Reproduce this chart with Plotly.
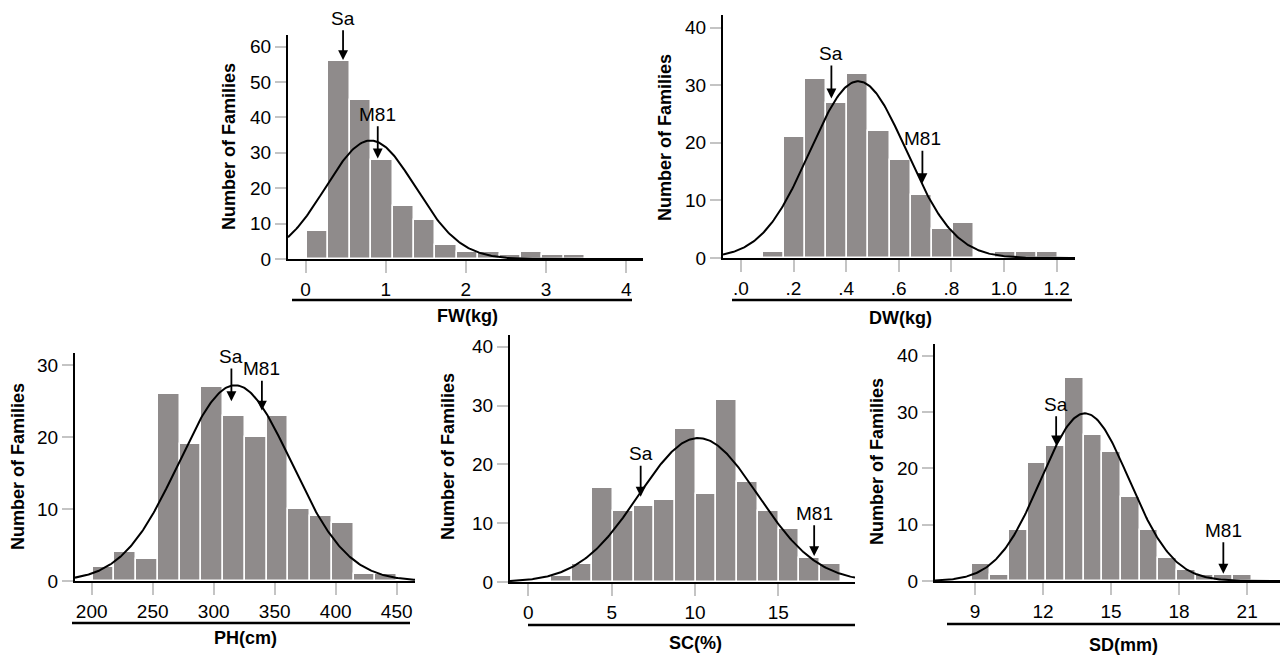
import numpy as np
import plotly.graph_objects as go

# ---------------- data ----------------
fw_counts = [8, 56, 45, 28, 15, 11, 4, 2, 2, 1, 2, 1, 1]
fw_bin_start = 0.017
fw_bin_width = 0.267
fw_fit = [0.81, 0.56]            # mean, sd of fitted normal
fw_marks = ["Sa", "M81"]
fw_mark_x = [0.467, 0.90]
fw_mark_tip = [56.2, 28.4]
fw_mark_text_y = [68.0, 40.9]
fw_ticks = [0, 1, 2, 3, 4]
fw_ticklabels = ["0", "1", "2", "3", "4"]

dw_counts = [1, 21, 31, 27, 32, 22, 17, 11, 5, 6, 0, 1, 1, 1]
dw_bin_start = 0.085
dw_bin_width = 0.08
dw_fit = [0.446, 0.183]
dw_marks = ["Sa", "M81"]
dw_mark_x = [0.344, 0.69]
dw_mark_tip = [27.7, 13.0]
dw_mark_text_y = [35.5, 20.7]
dw_ticks = [0, 0.2, 0.4, 0.6, 0.8, 1.0, 1.2]
dw_ticklabels = [".0", ".2", ".4", ".6", ".8", "1.0", "1.2"]

ph_counts = [2, 4, 3, 26, 19, 27, 23, 20, 23, 10, 9, 8, 1, 1]
ph_bin_start = 200.8
ph_bin_width = 17.83
ph_fit = [317.5, 46.0]
ph_marks = ["Sa", "M81"]
ph_mark_x = [314.5, 339.5]
ph_mark_tip = [25.0, 23.7]
ph_mark_text_y = [31.2, 29.5]
ph_ticks = [200, 250, 300, 350, 400, 450]
ph_ticklabels = ["200", "250", "300", "350", "400", "450"]

sc_counts = [1, 3, 16, 12, 13, 14, 26, 15, 31, 17, 12, 9, 4, 3]
sc_bin_start = 1.36
sc_bin_width = 1.241
sc_fit = [10.2, 3.56]
sc_marks = ["Sa", "M81"]
sc_mark_x = [6.74, 17.15]
sc_mark_tip = [14.5, 4.4]
sc_mark_text_y = [21.8, 11.7]
sc_ticks = [0, 5, 10, 15, 20]
sc_ticklabels = ["0", "5", "10", "15", "20"]

sd_counts = [3, 1, 9, 21, 24, 36, 26, 23, 15, 9, 4, 2, 1, 1, 1]
sd_bin_start = 8.85
sd_bin_width = 0.823
sd_fit = [13.85, 1.94]
sd_marks = ["Sa", "M81"]
sd_mark_x = [12.58, 19.95]
sd_mark_tip = [24.1, 1.3]
sd_mark_text_y = [31.4, 9.0]
sd_ticks = [9, 12, 15, 18, 21]
sd_ticklabels = ["9", "12", "15", "18", "21"]

x_titles = ["FW(kg)", "DW(kg)", "PH(cm)", "SC(%)", "SD(mm)"]
y_title = "Number of Families"

# ---------------- layout geometry (pixels of the page) ----------------
W, H = 1288, 659
OFF = 8   # default body margin of the html page
FONT = "Liberation Sans, Arial, sans-serif"


def fx(px):
    return (px - OFF) / W


def fy(py):
    return 1 - (py - OFF) / H


panels = [
    dict(counts=fw_counts, start=fw_bin_start, width=fw_bin_width, fit=fw_fit,
         marks=fw_marks, mx=fw_mark_x, mtip=fw_mark_tip, mty=fw_mark_text_y,
         ticks=fw_ticks, ticklabels=fw_ticklabels, yticks=[0, 10, 20, 30, 40, 50, 60],
         px=[288, 643], py=[35, 259], xr=[-0.22, 4.21], yr=[0, 63.3],
         ytitle=[229, 147], xtitle=[467, 316], uline=[292, 632, 300]),
    dict(counts=dw_counts, start=dw_bin_start, width=dw_bin_width, fit=dw_fit,
         marks=dw_marks, mx=dw_mark_x, mtip=dw_mark_tip, mty=dw_mark_text_y,
         ticks=dw_ticks, ticklabels=dw_ticklabels, yticks=[0, 10, 20, 30, 40],
         px=[723, 1075], py=[15, 258], xr=[-0.068, 1.27], yr=[0, 42.2],
         ytitle=[665, 137], xtitle=[900, 318], uline=[732, 1072, 300]),
    dict(counts=ph_counts, start=ph_bin_start, width=ph_bin_width, fit=ph_fit,
         marks=ph_marks, mx=ph_mark_x, mtip=ph_mark_tip, mty=ph_mark_text_y,
         ticks=ph_ticks, ticklabels=ph_ticklabels, yticks=[0, 10, 20, 30],
         px=[75, 415], py=[353, 581], xr=[186.3, 465], yr=[0, 31.7],
         ytitle=[18, 467], xtitle=[245, 638], uline=[72, 410, 623]),
    dict(counts=sc_counts, start=sc_bin_start, width=sc_bin_width, fit=sc_fit,
         marks=sc_marks, mx=sc_mark_x, mtip=sc_mark_tip, mty=sc_mark_text_y,
         ticks=sc_ticks, ticklabels=sc_ticklabels, yticks=[0, 10, 20, 30, 40],
         px=[510, 855], py=[335, 582], xr=[-1.1, 19.6], yr=[0, 42.0],
         ytitle=[448, 457], xtitle=[695, 643], uline=[528, 855, 625]),
    dict(counts=sd_counts, start=sd_bin_start, width=sd_bin_width, fit=sd_fit,
         marks=sd_marks, mx=sd_mark_x, mtip=sd_mark_tip, mty=sd_mark_text_y,
         ticks=sd_ticks, ticklabels=sd_ticklabels, yticks=[0, 10, 20, 30, 40],
         px=[935, 1288], py=[344, 581], xr=[7.24, 22.8], yr=[0, 42.1],
         ytitle=[877, 462], xtitle=[1123, 645], uline=[947, 1286, 624]),
]

fig = go.Figure()
annotations = []
shapes = []
layout_axes = {}

for i, p in enumerate(panels):
    n = "" if i == 0 else str(i + 1)
    xa, ya = "x" + n, "y" + n
    counts = p["counts"]
    fig.add_trace(go.Bar(
        y=counts, x0=p["start"] + p["width"] / 2, dx=p["width"], width=p["width"],
        marker=dict(color="#8f8b8b", line=dict(color="white", width=1.5)),
        xaxis=xa, yaxis=ya, showlegend=False, hoverinfo="skip"))
    mean, sd = p["fit"]
    total = sum(counts)
    xs = np.linspace(p["xr"][0], p["xr"][1], 300)
    ys = total * p["width"] / (sd * np.sqrt(2 * np.pi)) * np.exp(-0.5 * ((xs - mean) / sd) ** 2)
    fig.add_trace(go.Scatter(x=xs, y=ys, mode="lines", line=dict(color="black", width=2),
                             xaxis=xa, yaxis=ya, showlegend=False, hoverinfo="skip"))

    axis_common = dict(showgrid=False, zeroline=False, showline=True, linecolor="black",
                       linewidth=2, ticks="outside", tickcolor="#c4c4c4", tickwidth=1.5,
                       automargin=False,
                       tickfont=dict(family=FONT, size=19, color="black"))
    layout_axes["xaxis" + n] = dict(axis_common, domain=[fx(p["px"][0]), min(1.0, fx(p["px"][1]))],
                                    anchor=ya, range=p["xr"], tickvals=p["ticks"],
                                    ticktext=p["ticklabels"], ticklen=12)
    layout_axes["yaxis" + n] = dict(axis_common, domain=[fy(p["py"][1]), fy(p["py"][0])],
                                    anchor=xa, range=p["yr"], tickvals=p["yticks"], ticklen=11)

    for lab, mx, tip, ty in zip(p["marks"], p["mx"], p["mtip"], p["mty"]):
        annotations.append(dict(x=mx, y=tip, ax=mx, ay=ty, axref=xa, ayref=ya,
                                xref=xa, yref=ya, text=lab, showarrow=True,
                                arrowhead=2, arrowsize=1.1, arrowwidth=1.8, arrowcolor="black",
                                standoff=0, startstandoff=1, borderpad=0,
                                font=dict(family=FONT, size=19, color="black")))

    annotations.append(dict(x=fx(p["ytitle"][0]), y=fy(p["ytitle"][1]), xref="paper", yref="paper",
                            xanchor="center", yanchor="middle",
                            text=y_title, showarrow=False, textangle=-90,
                            font=dict(family=FONT, size=18, color="black", weight="bold")))
    annotations.append(dict(x=fx(p["xtitle"][0]), y=fy(p["xtitle"][1]), xref="paper", yref="paper",
                            xanchor="center", yanchor="middle",
                            text=x_titles[i], showarrow=False,
                            font=dict(family=FONT, size=18, color="black", weight="bold")))
    x0, x1, yl = p["uline"]
    shapes.append(dict(type="line", xref="paper", yref="paper", x0=fx(x0), x1=fx(x1),
                       y0=fy(yl), y1=fy(yl), line=dict(color="black", width=2.5)))

fig.update_layout(
    template="none",
    width=W, height=H, margin=dict(l=0, r=0, t=0, b=0, pad=0), autosize=False,
    paper_bgcolor="white", plot_bgcolor="white",
    annotations=annotations, shapes=shapes, bargap=0,
    **layout_axes)

fig.write_html("out.html")
